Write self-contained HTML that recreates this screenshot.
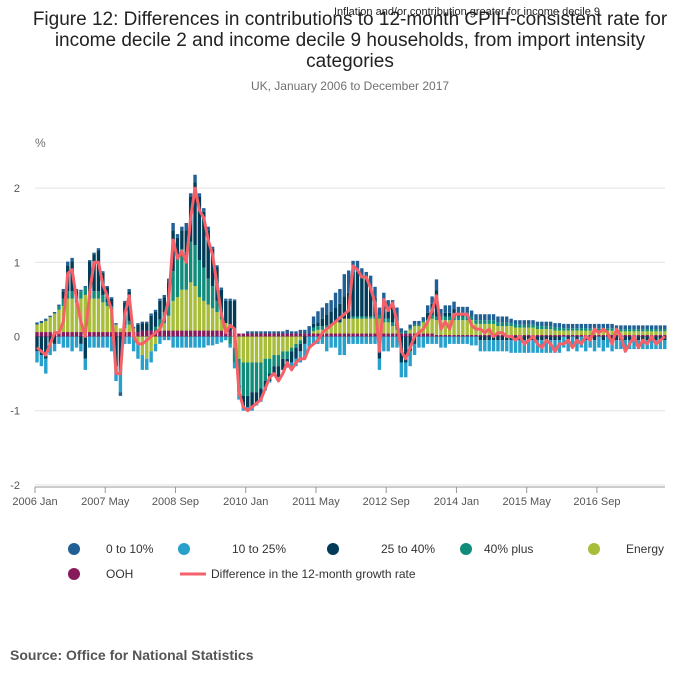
<!DOCTYPE html>
<html><head><meta charset="utf-8">
<style>
body{margin:0;background:#fff;font-family:"Liberation Sans",sans-serif;}
#wrap{position:relative;width:700px;height:682px;overflow:hidden;}
</style></head>
<body>
<div id="wrap">
<svg id="svg" width="700" height="682" xmlns="http://www.w3.org/2000/svg">
<text x="350" y="25" text-anchor="middle" font-size="19" fill="#222">Figure 12: Differences in contributions to 12-month CPIH-consistent rate for</text>
<text x="350" y="46" text-anchor="middle" font-size="19" fill="#222">income decile 2 and income decile 9 households, from import intensity</text>
<text x="350" y="67" text-anchor="middle" font-size="19" fill="#222">categories</text>
<text x="467" y="15" text-anchor="middle" font-size="11" fill="#222">Inflation and/or contribution greater for income decile 9</text>
<text x="350" y="90" text-anchor="middle" font-size="12" fill="#707070">UK, January 2006 to December 2017</text>
<text x="35" y="147" font-size="12" fill="#707070">%</text>
<g id="grid"></g><g id="bars"></g><g id="line"></g><g id="xaxis"></g>
<g id="legend" font-size="12" fill="#333"></g>
<text x="10" y="660" font-size="14" font-weight="bold" fill="#555">Source: Office for National Statistics</text>
</svg>
</div>
<script>
const yTicks=[2,1,0,-1,-2];
const xTickLabels=["2006 Jan","2007 May","2008 Sep","2010 Jan","2011 May","2012 Sep","2014 Jan","2015 May","2016 Sep"];
const xTickIdx=[0,16,32,48,64,80,96,112,128];
const seriesNames=["OOH","Energy","40% plus","25 to 40%","10 to 25%","0 to 10%"];
const seriesColors=["#871a5b","#a8bd3a","#118c7b","#003c57","#27a0cc","#206095"];
const diffLine=[
-0.15,-0.2,-0.25,-0.1,0.05,0.05,0.2,0.85,0.9,0.5,0.2,0.0,
0.6,1.0,1.0,0.7,0.55,0.35,-0.5,-0.5,0.3,0.55,0.0,-0.1,
-0.1,-0.05,0.0,0.05,0.1,0.25,0.5,1.3,1.05,1.15,1.0,1.6,
2.0,1.7,1.6,1.3,1.1,0.7,0.3,0.05,0.15,0.1,-0.75,-0.95,
-1.0,-0.95,-0.9,-0.85,-0.7,-0.55,-0.5,-0.6,-0.5,-0.35,-0.45,-0.35,
-0.3,-0.3,-0.15,-0.1,-0.05,0.05,0.1,0.15,0.2,0.25,0.3,0.35,
0.95,0.9,0.8,0.8,0.65,0.45,-0.2,0.5,0.35,0.45,0.2,-0.2,
-0.3,-0.15,0.0,0.05,0.1,0.2,0.35,0.55,0.1,0.2,0.1,0.3,
0.3,0.3,0.3,0.15,0.1,0.1,0.05,0.1,0.0,0.05,0.05,0.0,
0.0,-0.05,0.0,-0.1,-0.05,0.0,-0.1,-0.15,-0.05,-0.1,-0.2,-0.1,
-0.1,-0.05,-0.15,-0.05,-0.1,0.0,-0.05,0.1,0.05,0.1,0.05,-0.1,
0.1,0.0,-0.2,-0.1,0.0,-0.15,-0.05,-0.1,0.0,-0.1,-0.05,0.0];
const ooh=[
0.06,0.06,0.06,0.06,0.06,0.06,0.06,0.06,0.06,0.06,0.06,0.06,
0.06,0.06,0.06,0.06,0.06,0.06,0.06,0.06,0.06,0.06,0.06,0.06,
0.08,0.08,0.08,0.08,0.08,0.08,0.08,0.08,0.08,0.08,0.08,0.08,
0.08,0.08,0.08,0.08,0.08,0.08,0.08,0.08,0.08,0.08,0.04,0.04,
0.04,0.04,0.04,0.04,0.04,0.04,0.04,0.04,0.04,0.04,0.04,0.04,
0.04,0.04,0.04,0.04,0.04,0.04,0.04,0.04,0.04,0.04,0.04,0.04,
0.04,0.04,0.04,0.04,0.04,0.04,0.04,0.04,0.04,0.04,0.04,0.04,
0.04,0.04,0.04,0.04,0.04,0.04,0.04,0.02,0.02,0.02,0.02,0.02,
0.02,0.02,0.02,0.02,0.02,0.02,0.02,0.02,0.02,0.02,0.02,0.02,
0.02,0.02,0.02,0.02,0.02,0.02,0.02,0.02,0.02,0.02,0.02,0.02,
0.02,0.02,0.02,0.02,0.02,0.02,0.02,0.02,0.02,0.02,0.02,0.02,
0.02,0.02,0.02,0.02,0.02,0.02,0.02,0.02,0.02,0.02,0.02,0.02];
const energy=[
0.1,0.12,0.15,0.2,0.25,0.3,0.35,0.45,0.45,0.4,0.45,0.5,
0.45,0.45,0.45,0.4,0.35,0.3,0.1,0.05,0.05,0.1,0.05,-0.1,
-0.25,-0.3,-0.2,-0.1,0.05,0.1,0.2,0.4,0.45,0.55,0.55,0.65,
0.6,0.45,0.4,0.35,0.3,0.25,0.15,0.1,0.0,-0.15,-0.3,-0.35,
-0.35,-0.35,-0.35,-0.35,-0.3,-0.3,-0.25,-0.25,-0.2,-0.2,-0.15,-0.1,
-0.05,0,0,0.03,0.05,0.05,0.08,0.1,0.15,0.15,0.2,0.2,
0.2,0.2,0.2,0.2,0.2,0.2,0.2,0.15,0.15,0.1,0.05,0,
0.0,0.05,0.1,0.1,0.15,0.15,0.2,0.2,0.2,0.2,0.2,0.2,
0.2,0.2,0.2,0.2,0.15,0.15,0.15,0.15,0.15,0.12,0.12,0.12,
0.12,0.1,0.1,0.1,0.1,0.1,0.08,0.08,0.08,0.08,0.06,0.06,
0.06,0.06,0.06,0.06,0.06,0.06,0.06,0.06,0.06,0.06,0.06,0.06,
0.05,0.05,0.05,0.05,0.05,0.05,0.05,0.05,0.05,0.05,0.05,0.05];
const teal=[
0,0,0,0,0,0.05,0.1,0.1,0.1,0.05,0.1,0.1,
0.1,0.1,0.1,0.1,0.05,0.05,0,0,0.05,0.05,0,0,
0,0,0,0.05,0.1,0.15,0.25,0.4,0.5,0.55,0.5,0.55,
0.55,0.5,0.45,0.35,0.3,0.15,0.1,0,-0.1,-0.2,-0.35,-0.45,
-0.45,-0.4,-0.4,-0.35,-0.3,-0.2,-0.15,-0.15,-0.1,-0.1,-0.05,-0.05,
-0.05,0,0,0.05,0.05,0.05,0.03,0,0,0,0,0,
0.03,0.03,0.03,0.03,0.03,0.03,0.05,0.05,0.05,0.05,0.05,0.02,
0.02,0.02,0.02,0.02,0.02,0.03,0.05,0.05,0.05,0.05,0.05,0.05,
0.05,0.05,0.05,0.05,0.05,0.05,0.05,0.05,0.05,0.05,0.05,0.05,
0.04,0.04,0.04,0.04,0.04,0.04,0.04,0.04,0.04,0.04,0.04,0.04,
0.03,0.03,0.03,0.03,0.03,0.03,0.03,0.03,0.03,0.03,0.03,0.03,
0.03,0.03,0.03,0.03,0.03,0.03,0.03,0.03,0.03,0.03,0.03,0.03];
const navy=[
-0.2,-0.25,-0.3,-0.1,-0.1,0,0.1,0.35,0.4,0.1,-0.1,-0.3,
0.4,0.5,0.55,0.3,0.2,0.1,-0.4,-0.5,0.3,0.4,0,0.1,
0.1,0.1,0.2,0.2,0.25,0.2,0.2,0.55,0.3,0.25,0.3,0.6,
0.85,0.85,0.75,0.65,0.5,0.45,0.3,0.3,0.4,0.4,-0.1,-0.15,
-0.15,-0.2,-0.15,-0.15,-0.1,-0.1,-0.1,-0.15,-0.15,-0.1,-0.15,-0.15,
-0.1,-0.1,0,0.05,0.05,0.1,0.15,0.2,0.2,0.25,0.3,0.35,
0.6,0.6,0.55,0.5,0.4,0.25,-0.3,0.2,0.1,0.2,0.1,-0.35,
-0.35,-0.2,-0.1,0,0,0.1,0.15,0.35,0,0.05,0.05,0.1,
0.05,0.05,0.05,0,0,-0.05,-0.05,-0.05,-0.05,-0.05,-0.05,-0.05,
-0.05,-0.05,-0.05,-0.05,-0.05,-0.05,-0.05,-0.05,-0.05,-0.05,-0.05,-0.05,
0,-0.05,0,-0.05,0,-0.05,0,-0.05,0,-0.05,0,-0.05,
-0.05,-0.05,-0.05,-0.05,-0.05,-0.05,-0.05,-0.05,-0.05,-0.05,-0.05,-0.05];
const lightBlue=[
-0.15,-0.15,-0.2,-0.15,-0.1,-0.1,-0.15,-0.15,-0.2,-0.15,-0.1,-0.15,
-0.15,-0.15,-0.15,-0.15,-0.15,-0.2,-0.2,-0.25,-0.1,-0.1,-0.2,-0.2,
-0.2,-0.15,-0.15,-0.1,-0.1,-0.05,-0.05,-0.15,-0.15,-0.15,-0.15,-0.15,
-0.15,-0.15,-0.15,-0.12,-0.12,-0.1,-0.08,-0.05,-0.05,-0.08,-0.1,-0.05,
-0.05,-0.05,-0.03,-0.03,-0.03,-0.02,0,0,0,-0.02,-0.1,-0.1,
-0.15,-0.2,-0.15,-0.1,-0.1,-0.1,-0.2,-0.15,-0.15,-0.25,-0.25,-0.1,
-0.1,-0.1,-0.1,-0.1,-0.1,-0.1,-0.15,-0.2,-0.2,-0.15,-0.15,-0.2,
-0.2,-0.2,-0.15,-0.15,-0.15,-0.1,-0.1,-0.1,-0.15,-0.15,-0.1,-0.1,
-0.1,-0.1,-0.1,-0.12,-0.12,-0.15,-0.15,-0.15,-0.15,-0.15,-0.15,-0.15,
-0.17,-0.17,-0.17,-0.17,-0.17,-0.17,-0.17,-0.17,-0.17,-0.17,-0.17,-0.17,
-0.15,-0.15,-0.15,-0.15,-0.15,-0.15,-0.15,-0.15,-0.15,-0.15,-0.15,-0.15,
-0.12,-0.12,-0.12,-0.12,-0.12,-0.12,-0.12,-0.12,-0.12,-0.12,-0.12,-0.12];
const blue=[
0.03,0.03,0.03,0.02,0.02,0.02,0.03,0.05,0.05,0.03,0.02,0.02,
0.02,0.02,0.03,0.02,0.02,0.02,0.02,-0.05,0.02,0.03,0.02,0.02,
0.02,0.02,0.03,0.03,0.03,0.03,0.05,0.1,0.05,0.05,0.1,0.05,
0.1,0.05,0.05,0.05,0.03,0.03,0.03,0.03,0.03,0.02,0,0,
0.03,0.03,0.03,0.03,0.03,0.03,0.03,0.03,0.03,0.05,0.03,0.03,
0.05,0.05,0.1,0.1,0.15,0.15,0.15,0.15,0.2,0.2,0.3,0.3,
0.15,0.15,0.1,0.1,0.15,0.15,0.1,0.15,0.15,0.1,0.15,0.05,
0.02,0.05,0.05,0.05,0.05,0.1,0.1,0.15,0.1,0.1,0.1,0.1,
0.08,0.08,0.08,0.08,0.08,0.08,0.08,0.08,0.08,0.08,0.08,0.08,
0.06,0.06,0.06,0.06,0.06,0.06,0.06,0.06,0.06,0.06,0.06,0.06,
0.06,0.06,0.06,0.06,0.06,0.06,0.06,0.06,0.06,0.06,0.06,0.06,
0.05,0.05,0.05,0.05,0.05,0.05,0.05,0.05,0.05,0.05,0.05,0.05];

const NS="http://www.w3.org/2000/svg";
const X0=37,STEP=4.39,Y0=336.5,YU=74.2;
function xs(i){return X0+i*STEP;}
function ys(v){return Y0-v*YU;}
function mk(tag,attrs,parent){const e=document.createElementNS(NS,tag);for(const k in attrs)e.setAttribute(k,attrs[k]);parent.appendChild(e);return e;}
const grid=document.getElementById('grid');
yTicks.forEach(t=>{
  const l=mk('line',{x1:35,x2:665,y1:ys(t),y2:ys(t),stroke:t===0?'#bbb':'#e2e2e2','stroke-width':1},grid);
  
  
  const tx=mk('text',{x:20,y:ys(t)+4,'font-size':11,fill:'#555','text-anchor':'end'},grid);
  tx.textContent=t;
  
  
});
const series=[ooh,energy,teal,navy,lightBlue,blue];
const bars=document.getElementById('bars');
for(let i=0;i<diffLine.length;i++){
  let pos=0,neg=0;
  series.forEach((s,k)=>{
    const v=s[i];if(!v)return;
    let y0,y1;
    if(v>0){y0=pos;y1=pos+v;pos=y1;}else{y0=neg;y1=neg+v;neg=y1;}
    const r=mk('rect',{x:xs(i)-1.7,width:3.4,y:Math.min(ys(y0),ys(y1)),height:Math.abs(ys(y0)-ys(y1)),fill:seriesColors[k]},bars);
    
    
  });
}
const lg=document.getElementById('line');
const p=mk('polyline',{points:diffLine.map((v,i)=>xs(i)+','+ys(v)).join(' '),fill:'none',stroke:'#f66068','stroke-width':3,'stroke-linejoin':'round'},lg);


const xa=document.getElementById('xaxis');
xTickIdx.forEach((idx,j)=>{
  const x=xs(idx)-2;
  const t=mk('line',{x1:x,x2:x,y1:487,y2:493,stroke:'#999'},xa);
  
  
  const tx=mk('text',{x:x,y:505,'font-size':11,fill:'#555','text-anchor':'middle'},xa);
  tx.textContent=xTickLabels[j];
  
  
});
const ax=mk('line',{x1:35,x2:665,y1:487,y2:487,stroke:'#999'},xa);


const leg=document.getElementById('legend');
const legItems=[[5,74,549,106],[4,184,549,232],[3,333,549,381],[2,466,549,484],[1,594,549,626],[0,74,574,106]];
legItems.forEach(([k,cx,cy,tx])=>{
  const c=mk('circle',{cx:cx,cy:cy,r:6,fill:seriesColors[k]},leg);
  
  
  const t=mk('text',{x:tx,y:cy+4},leg);
  t.textContent=seriesNames[k];
  
  
});
const ll=mk('line',{x1:180,x2:206,y1:574,y2:574,stroke:'#f66068','stroke-width':3},leg);


const lt=mk('text',{x:211,y:578},leg);
lt.textContent="Difference in the 12-month growth rate";


</script>
</body></html>
